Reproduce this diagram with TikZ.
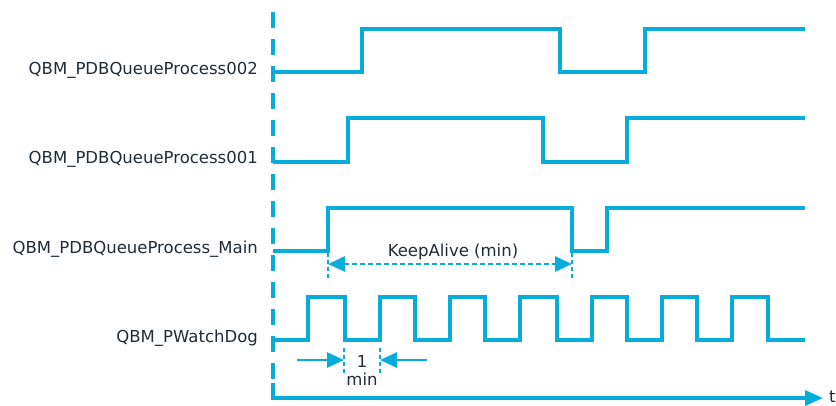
\documentclass[tikz,border=0pt]{standalone}
\usepackage{fontspec}
\setmainfont{DejaVu Sans}
\usetikzlibrary{arrows.meta}
\definecolor{sigc}{HTML}{06ADDB}
\definecolor{txt}{HTML}{1F2B36}
\begin{document}
\begin{tikzpicture}[x=1pt,y=-1pt,
  wave/.style={draw=sigc, line width=3.2pt, line join=miter, line cap=rect},
  lbl/.style={text=txt, font=\fontsize{16.5}{20}\selectfont, anchor=base east, inner sep=0pt},
  txtlbl/.style={text=txt, font=\fontsize{16.5}{20}\selectfont, inner sep=0pt},
  dimline/.style={draw=sigc, line width=2.8pt, dash pattern=on 5pt off 3pt},
  ticks/.style={draw=sigc, line width=2.2pt, dash pattern=on 4pt off 3pt},
  solidarrow/.style={draw=sigc, line width=2.8pt},
  bigtip/.style={-{Triangle[length=17pt,width=15pt]}},
  tips/.style={{Triangle[length=17pt,width=15pt]}-{Triangle[length=17pt,width=15pt]}}
]
\useasboundingbox (0,0) rectangle (836,405);

% labels
\node[lbl] (l002) at (258,74) {QBM\_PDBQueueProcess002};
\node[lbl] (l001) at (258,163) {QBM\_PDBQueueProcess001};
\node[lbl] (lmain) at (258,253) {QBM\_PDBQueueProcess\_Main};
\node[lbl] (lwd) at (258,342) {QBM\_PWatchDog};

% axis
\draw[draw=sigc, line width=3.2pt, dash pattern=on 16pt off 11pt] (273,12) -- (273,380);
\coordinate (o) at (273,398);
\coordinate (tend) at (823,398);
\draw[draw=sigc, line width=3.2pt, -{Triangle[length=18pt,width=15pt]}] (273,383) -- (o) -- (tend);
\node[txtlbl, anchor=base west] (t) at (829,402) {t};

% waveforms
\draw[wave] (275,72) -- (362,72) -- (362,29) -- (560,29) -- (560,72) -- (645,72) -- (645,29) -- (803,29);
\draw[wave] (275,162) -- (348,162) -- (348,118) -- (543,118) -- (543,162) -- (627,162) -- (627,118) -- (803,118);
\draw[wave] (275,251) -- (328,251) -- (328,208) -- (572,208) -- (572,251) -- (607,251) -- (607,208) -- (803,208);
\draw[wave] (275,340) -- (308,340) -- (308,297) -- (345,297) -- (345,340)
  -- (380,340) -- (380,297) -- (415,297) -- (415,340)
  -- (450,340) -- (450,297) -- (485,297) -- (485,340)
  -- (520,340) -- (520,297) -- (557,297) -- (557,340)
  -- (592,340) -- (592,297) -- (627,297) -- (627,340)
  -- (662,340) -- (662,297) -- (697,297) -- (697,340)
  -- (732,340) -- (732,297) -- (768,297) -- (768,340) -- (803,340);

% KeepAlive dimension
\coordinate (ka1) at (328,264);
\coordinate (ka2) at (572,264);
\draw[ticks] (328,253) -- (328,279);
\draw[ticks] (572,253) -- (572,279);
\draw[dimline, tips] (ka1) -- (ka2);
\node[txtlbl, anchor=base] (ka) at (453,256) {KeepAlive (min)};

% 1 min dimension
\draw[ticks] (344,348) -- (344,374);
\draw[ticks] (380,348) -- (380,374);
\coordinate (m1s) at (297,360);
\coordinate (m1e) at (344,360);
\coordinate (m2s) at (427,360);
\coordinate (m2e) at (380,360);
\draw[solidarrow, bigtip] (m1s) -- (m1e);
\draw[solidarrow, bigtip] (m2s) -- (m2e);
\node[txtlbl, anchor=base] (one) at (362,367) {1};
\node[txtlbl, anchor=base] (min) at (362,385) {min};
\end{tikzpicture}
\end{document}
